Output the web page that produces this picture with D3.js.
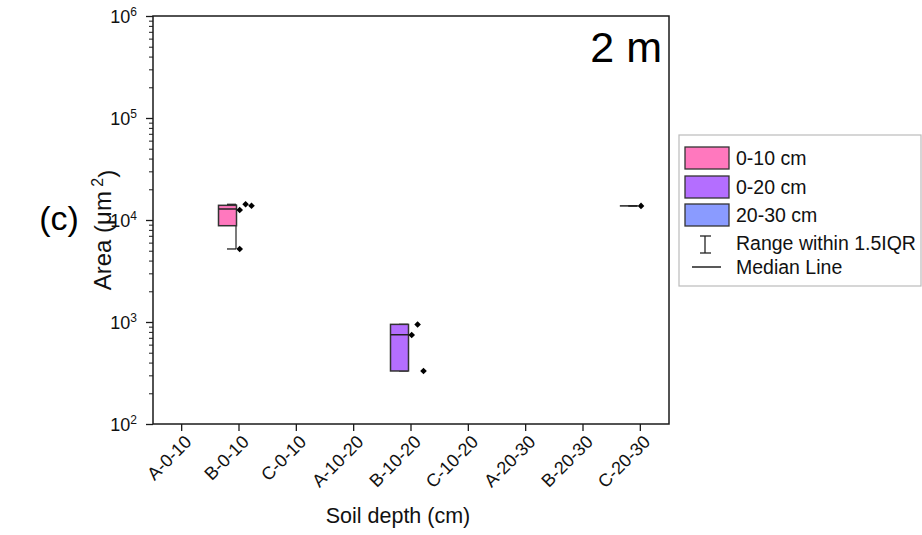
<!DOCTYPE html>
<html>
<head>
<meta charset="utf-8">
<script src="https://cdn.jsdelivr.net/npm/d3@7/dist/d3.min.js"></script>
<style>
  body { margin: 0; background: #fff; }
  svg { display: block; font-family: Arial, "Liberation Sans", sans-serif; }
</style>
</head>
<body>
<svg id="chart" width="922" height="535"></svg>
<script>
// ---- data ----
const categories = ["A-0-10","B-0-10","C-0-10","A-10-20","B-10-20","C-10-20","A-20-30","B-20-30","C-20-30"];
const boxCategories = ["B-0-10","B-10-20","C-20-30"];
const seriesNames = ["0-10 cm","0-20 cm","20-30 cm"];
const q1Values = [8790, 331, 13750];
const medianValues = [12820, 750, 13750];
const q3Values = [13930, 948, 13750];
const whiskerLowValues = [5200, 331, 13750];
const whiskerHighValues = [14250, 948, 13750];
const pointValues = [[12530, 14250, 13800, 5200], [746, 944, 331], [13750]];
const yTickValues = [1e2, 1e3, 1e4, 1e5, 1e6];
const yTickExponents = ["2", "3", "4", "5", "6"];
const seriesColors = ["#FF78BE", "#B46EFF", "#8A9BFF"];

// ---- layout ----
const svg = d3.select("#chart");
const L = 153, R = 669, T = 16, B = 424;
const axisColor = "#1a1a1a";

const x = d3.scaleBand().domain(categories).range([L, R]);
const y = d3.scaleLog().domain([1e2, 1e6]).range([B, T]);
const cx = c => x(c) + x.bandwidth() / 2;

// minor y ticks
const minorTicks = [];
for (let e = 2; e < 6; e++) for (let m = 2; m <= 9; m++) minorTicks.push(m * Math.pow(10, e));

const gMinor = svg.append("g").attr("transform", `translate(${L},0)`)
  .call(d3.axisLeft(y).tickValues(minorTicks).tickSize(4).tickFormat(""));
gMinor.select(".domain").remove();
gMinor.selectAll("line").attr("stroke", axisColor).attr("stroke-width", 1);

const gy = svg.append("g").attr("transform", `translate(${L},0)`)
  .call(d3.axisLeft(y).tickValues(yTickValues).tickSize(7).tickFormat(""));
gy.select(".domain").remove();
gy.selectAll("line").attr("stroke", axisColor).attr("stroke-width", 1.3);
gy.selectAll(".tick").each(function(d, i) {
  const t = d3.select(this).append("text")
    .attr("x", -16).attr("y", 0).attr("dy", "0.35em")
    .attr("text-anchor", "end").attr("fill", "#111")
    .style("font-size", "18px");
  t.append("tspan").text("10");
  t.append("tspan").attr("dy", "-0.55em").style("font-size", "12px").text(yTickExponents[i]);
});

const gx = svg.append("g").attr("transform", `translate(0,${B})`)
  .call(d3.axisBottom(x).tickSize(7).tickFormat(""));
gx.select(".domain").remove();
gx.selectAll("line").attr("stroke", axisColor).attr("stroke-width", 1.3);
gx.selectAll(".tick").append("text")
  .attr("text-anchor", "end").attr("fill", "#111")
  .style("font-size", "18px")
  .attr("transform", "translate(11,19) rotate(-45)")
  .text(d => d);

// frame
svg.append("rect").attr("x", L).attr("y", T).attr("width", R - L).attr("height", B - T)
  .attr("fill", "none").attr("stroke", axisColor).attr("stroke-width", 1.5);

// ---- boxes ----
const boxL = -20.5, boxR = -2.5, whiskX = -3, capL = -12;
const diamond = (px, py, r) => `M${px},${py - r}L${px + r},${py}L${px},${py + r}L${px - r},${py}Z`;

boxCategories.forEach((c, i) => {
  const t = cx(c);
  const g = svg.append("g");
  g.append("line").attr("x1", t + whiskX).attr("x2", t + whiskX)
    .attr("y1", y(q3Values[i])).attr("y2", y(whiskerHighValues[i]))
    .attr("stroke", "#333").attr("stroke-width", 1.3);
  g.append("line").attr("x1", t + whiskX).attr("x2", t + whiskX)
    .attr("y1", y(q1Values[i])).attr("y2", y(whiskerLowValues[i]))
    .attr("stroke", "#333").attr("stroke-width", 1.3);
  [whiskerHighValues[i], whiskerLowValues[i]].forEach(v => {
    g.append("line").attr("x1", t + capL).attr("x2", t + whiskX)
      .attr("y1", y(v)).attr("y2", y(v))
      .attr("stroke", "#222").attr("stroke-width", 1.3);
  });
  g.append("rect").attr("x", t + boxL).attr("width", boxR - boxL)
    .attr("y", y(q3Values[i])).attr("height", Math.max(0, y(q1Values[i]) - y(q3Values[i])))
    .attr("fill", seriesColors[i]).attr("stroke", "#333").attr("stroke-width", 1.5);
  g.append("line").attr("x1", t + boxL).attr("x2", t + boxR)
    .attr("y1", y(medianValues[i])).attr("y2", y(medianValues[i]))
    .attr("stroke", "#222").attr("stroke-width", 1.5);
  pointValues[i].forEach((v, j) => {
    g.append("path").attr("d", diamond(t + 0.7 + (j % 3) * 5.9, y(v), 3.3)).attr("fill", "#000");
  });
});

// ---- texts ----
svg.append("text").attr("x", 662).attr("y", 62).attr("text-anchor", "end")
  .style("font-size", "43px").attr("fill", "#000").text("2 m");

svg.append("text").attr("x", 59).attr("y", 218).attr("dy", "0.35em").attr("text-anchor", "middle")
  .style("font-size", "34px").attr("fill", "#000").text("(c)");

const yt = svg.append("text").attr("transform", "translate(111,230) rotate(-90)")
  .attr("text-anchor", "middle").attr("fill", "#111").style("font-size", "24px");
yt.append("tspan").text("Area (μm");
yt.append("tspan").attr("dy", "-0.5em").style("font-size", "16px").text(" 2");
yt.append("tspan").attr("dy", "0.5em").text(")");

svg.append("text").attr("x", 398).attr("y", 523).attr("text-anchor", "middle")
  .style("font-size", "21.5px").attr("fill", "#111").text("Soil depth (cm)");

// ---- legend ----
const lg = svg.append("g");
lg.append("rect").attr("x", 679).attr("y", 135).attr("width", 242).attr("height", 151)
  .attr("fill", "#fff").attr("stroke", "#bbb").attr("stroke-width", 1.2);
const rowY = [158, 187, 215];
seriesNames.forEach((s, i) => {
  lg.append("rect").attr("x", 685).attr("y", rowY[i] - 11).attr("width", 44).attr("height", 22)
    .attr("fill", seriesColors[i]).attr("stroke", "#333").attr("stroke-width", 1.3);
  lg.append("text").attr("x", 736).attr("y", rowY[i]).attr("dy", "0.35em")
    .style("font-size", "19.5px").attr("fill", "#111").text(s);
});
lg.append("line").attr("x1", 705).attr("x2", 705).attr("y1", 236).attr("y2", 253).attr("stroke", "#222").attr("stroke-width", 1.3);
lg.append("line").attr("x1", 700).attr("x2", 711).attr("y1", 236).attr("y2", 236).attr("stroke", "#222").attr("stroke-width", 1.3);
lg.append("line").attr("x1", 700).attr("x2", 711).attr("y1", 253).attr("y2", 253).attr("stroke", "#222").attr("stroke-width", 1.3);
lg.append("text").attr("x", 736).attr("y", 243).attr("dy", "0.35em")
  .style("font-size", "19.5px").attr("fill", "#111").text("Range within 1.5IQR");
lg.append("line").attr("x1", 692).attr("x2", 721).attr("y1", 267).attr("y2", 267).attr("stroke", "#222").attr("stroke-width", 1.5);
lg.append("text").attr("x", 736).attr("y", 267).attr("dy", "0.35em")
  .style("font-size", "19.5px").attr("fill", "#111").text("Median Line");
</script>
</body>
</html>
